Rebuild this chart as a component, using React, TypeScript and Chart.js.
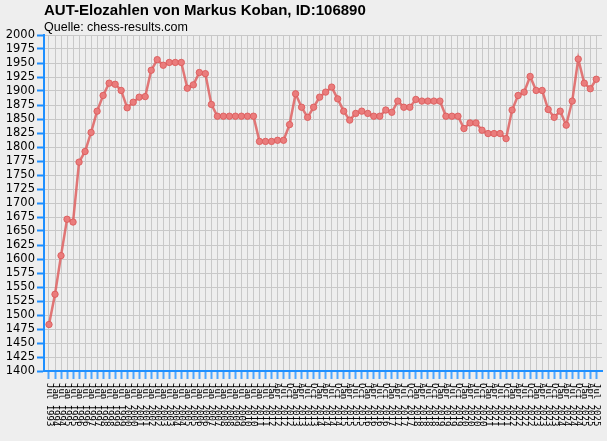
import { useEffect, useRef } from 'react';
import { Chart, registerables } from 'chart.js';
import type { ChartConfiguration } from 'chart.js';

Chart.register(...registerables);

// Rating list dates (x axis)
const listDates = [
  'Jul 1993', 'Jan 1994', 'Jul 1994', 'Jan 1995', 'Jul 1995', 'Jan 1996', 'Jul 1996', 'Jan 1997',
  'Jul 1997', 'Jan 1998', 'Jul 1998', 'Jan 1999', 'Jul 1999', 'Jan 2000', 'Jul 2000', 'Jan 2001',
  'Jul 2001', 'Jan 2002', 'Jul 2002', 'Jan 2003', 'Jul 2003', 'Jan 2004', 'Jul 2004', 'Jan 2005',
  'Jul 2005', 'Jan 2006', 'Jul 2006', 'Jan 2007', 'Jul 2007', 'Jan 2008', 'Jul 2008', 'Jan 2009',
  'Jul 2009', 'Jan 2010', 'Jul 2010', 'Jan 2011', 'Jul 2011', 'Jan 2012', 'Apr 2012', 'Jul 2012',
  'Oct 2012', 'Jan 2013', 'Apr 2013', 'Jul 2013', 'Oct 2013', 'Jan 2014', 'Apr 2014', 'Jul 2014',
  'Oct 2014', 'Jan 2015', 'Apr 2015', 'Jul 2015', 'Oct 2015', 'Jan 2016', 'Apr 2016', 'Jul 2016',
  'Oct 2016', 'Jan 2017', 'Apr 2017', 'Jul 2017', 'Oct 2017', 'Jan 2018', 'Apr 2018', 'Jul 2018',
  'Oct 2018', 'Jan 2019', 'Apr 2019', 'Jul 2019', 'Oct 2019', 'Jan 2020', 'Apr 2020', 'Jul 2020',
  'Oct 2020', 'Jan 2021', 'Apr 2021', 'Jul 2021', 'Oct 2021', 'Jan 2022', 'Apr 2022', 'Jul 2022',
  'Oct 2022', 'Jan 2023', 'Apr 2023', 'Jul 2023', 'Oct 2023', 'Jan 2024', 'Apr 2024', 'Jul 2024',
  'Oct 2024', 'Jan 2025', 'Apr 2025', 'Jul 2025',
];

// Elo values per list
const eloValues = [
  1483, 1537, 1606, 1671, 1666, 1773, 1792, 1826, 1864, 1892,
  1914, 1912, 1901, 1870, 1880, 1889, 1890, 1937, 1956, 1946,
  1951, 1951, 1951, 1905, 1911, 1933, 1931, 1876, 1855, 1855,
  1855, 1855, 1855, 1855, 1855, 1810, 1810, 1810, 1812, 1812,
  1840, 1895, 1871, 1853, 1871, 1889, 1898, 1907, 1886, 1864,
  1848, 1860, 1864, 1860, 1855, 1855, 1866, 1862, 1882, 1871,
  1871, 1885, 1882, 1882, 1882, 1882, 1855, 1855, 1855, 1833,
  1843, 1843, 1830, 1824, 1824, 1824, 1815, 1866, 1892, 1898,
  1926, 1901, 1901, 1867, 1853, 1864, 1839, 1882, 1957, 1914,
  1904, 1921,
];

const yMin = 1400;
const yMax = 2000;
const yStep = 25;

const axisBlue = '#1e8fff';

// x labels read top-to-bottom, drawn at the scale's tick positions
const downLabels = {
  id: 'downLabels',
  afterDraw(chart: Chart) {
    const scale = chart.scales.x;
    const ctx = chart.ctx;
    ctx.save();
    ctx.font = '9px "DejaVu Sans Mono"';
    ctx.fillStyle = '#000';
    ctx.textAlign = 'left';
    ctx.textBaseline = 'middle';
    scale.ticks.forEach((t) => {
      const label = listDates[t.value];
      if (!label) return;
      const x = scale.getPixelForValue(t.value);
      ctx.save();
      ctx.translate(x, scale.top + 12);
      ctx.rotate(Math.PI / 2);
      ctx.fillText(label, 0, 0);
      ctx.restore();
    });
    ctx.restore();
  },
};

export default function App() {
  const canvasRef = useRef<HTMLCanvasElement>(null);
  const chartRef = useRef<Chart | null>(null);

  useEffect(() => {
    if (!canvasRef.current) return;
    if (chartRef.current) chartRef.current.destroy();

    const config: ChartConfiguration<'line'> = {
      type: 'line',
      data: {
        datasets: [
          {
            label: 'Elo',
            data: eloValues.map((v, i) => ({ x: i, y: v })),
            borderColor: 'rgba(222, 96, 96, 0.85)',
            borderWidth: 2.5,
            pointRadius: 3.2,
            pointBackgroundColor: 'rgba(234, 124, 124, 1)',
            pointBorderColor: 'rgba(220, 92, 92, 0.9)',
            pointBorderWidth: 1,
            tension: 0,
            fill: false,
          },
        ],
      },
      options: {
        responsive: true,
        maintainAspectRatio: false,
        animation: false,
        layout: { padding: { left: 0, right: 4, top: 0, bottom: 0 } },
        plugins: {
          legend: { display: false },
          tooltip: { enabled: false },
          title: {
            display: true,
            text: 'AUT-Elozahlen von Markus Koban, ID:106890',
            align: 'start',
            fullSize: false,
            color: '#000',
            font: { family: '"Liberation Sans", Arial, sans-serif', size: 15, weight: 'bold' },
            padding: { top: 2, bottom: 0 },
          },
          subtitle: {
            display: true,
            text: 'Quelle: chess-results.com',
            align: 'start',
            fullSize: false,
            color: '#000',
            font: { family: '"Liberation Sans", Arial, sans-serif', size: 12.5 },
            padding: { top: 0, bottom: 0 },
          },
        },
        scales: {
          x: {
            type: 'linear',
            min: -0.83,
            max: 91.95,
            afterFit: (s) => {
              s.height = 70;
            },
            ticks: { display: false, stepSize: 1, includeBounds: false },
            grid: {
              color: '#c8c8c8',
              lineWidth: 1,
              tickColor: '#4ea6ff',
              tickLength: 8,
              tickWidth: 2,
            },
            border: { color: axisBlue, width: 2 },
          },
          y: {
            min: yMin,
            max: yMax,
            afterFit: (s) => {
              s.width = 44;
            },
            ticks: {
              stepSize: yStep,
              autoSkip: false,
              padding: 2,
              color: '#000',
              font: { family: '"DejaVu Sans", sans-serif', size: 11.5 },
              callback: (v) => String(v),
            },
            grid: {
              color: '#c8c8c8',
              lineWidth: 1,
              tickColor: axisBlue,
              tickLength: 7,
              tickWidth: 2,
            },
            border: { color: axisBlue, width: 2 },
          },
        },
      },
      plugins: [downLabels],
    };

    chartRef.current = new Chart(canvasRef.current, config);

    return () => {
      if (chartRef.current) {
        chartRef.current.destroy();
        chartRef.current = null;
      }
    };
  }, []);

  return (
    <div
      style={{
        position: 'fixed',
        left: 0,
        top: 0,
        width: 607,
        height: 441,
        background: '#eeeeee',
      }}
    >
      <canvas ref={canvasRef} />
    </div>
  );
}
